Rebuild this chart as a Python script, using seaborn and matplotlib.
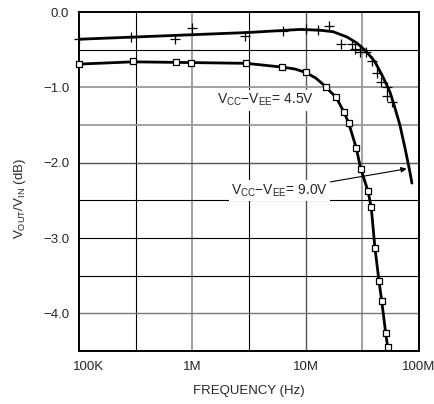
import matplotlib
matplotlib.use("Agg")
import matplotlib.pyplot as plt
import matplotlib.transforms as mtransforms
import seaborn as sns
import pandas as pd

# --- data ---
# upper curve, fitted line
fit_hi_f = [1.0e5, 3.16e5, 1.0e6, 3.16e6, 8.9e6, 1.34e7, 1.75e7, 2.32e7, 2.84e7,
            3.48e7, 4.1e7, 4.82e7, 5.56e7, 6.15e7, 6.81e7, 7.54e7, 8.34e7, 8.69e7]
fit_hi_db = [-0.36, -0.33, -0.30, -0.27, -0.23, -0.24, -0.26, -0.33, -0.41,
             -0.53, -0.66, -0.86, -1.06, -1.27, -1.50, -1.80, -2.12, -2.27]
# upper curve, measured points (+)
meas_hi_f = [1.0e5, 2.9e5, 7.1e5, 1.0e6, 2.95e6, 6.3e6, 1.0e7, 1.29e7, 1.62e7,
             2.04e7, 2.57e7, 2.75e7, 3.02e7, 3.39e7, 3.89e7, 4.27e7, 4.68e7,
             5.25e7, 5.25e7, 5.75e7]
meas_hi_db = [-0.36, -0.33, -0.36, -0.21, -0.32, -0.25, -0.23, -0.24, -0.19,
              -0.42, -0.42, -0.49, -0.53, -0.53, -0.65, -0.81, -0.93,
              -0.99, -1.11, -1.19]
# lower curve, fitted line
fit_lo_f = [1.0e5, 3.0e5, 1.0e6, 3.0e6, 6.2e6, 8.05e6, 1.0e7, 1.23e7, 1.51e7,
            1.64e7, 1.86e7, 2.19e7, 2.4e7, 2.8e7, 3.07e7, 3.55e7, 3.8e7,
            4.1e7, 4.45e7, 4.7e7, 5.1e7, 5.3e7]
fit_lo_db = [-0.69, -0.66, -0.67, -0.68, -0.73, -0.755, -0.80, -0.875, -0.99,
             -1.05, -1.13, -1.33, -1.47, -1.80, -2.08, -2.37, -2.59,
             -3.13, -3.57, -3.83, -4.26, -4.44]
# lower curve, measured points (squares)
meas_lo_f = [1.0e5, 3.0e5, 7.2e5, 9.8e5, 3.0e6, 6.2e6, 1.0e7, 1.51e7, 1.86e7,
             2.19e7, 2.4e7, 2.8e7, 3.07e7, 3.55e7, 3.8e7, 4.1e7, 4.45e7,
             4.7e7, 5.1e7, 5.3e7]
meas_lo_db = [-0.69, -0.65, -0.66, -0.67, -0.68, -0.73, -0.80, -0.99, -1.13,
              -1.33, -1.47, -1.80, -2.08, -2.37, -2.59, -3.13, -3.57,
              -3.83, -4.26, -4.44]

x_ticks = [1e5, 1e6, 1e7, 1e8]
x_labels = ['100K', '1M', '10M', '100M']
y_ticks = [0.0, -1.0, -2.0, -3.0, -4.0]
y_labels = ['0.0', '\u22121.0', '\u22122.0', '\u22123.0', '\u22124.0']

hi = pd.DataFrame({'f': fit_hi_f, 'db': fit_hi_db})
lo = pd.DataFrame({'f': fit_lo_f, 'db': fit_lo_db})
hi_pts = pd.DataFrame({'f': meas_hi_f, 'db': meas_hi_db})
lo_pts = pd.DataFrame({'f': meas_lo_f, 'db': meas_lo_db})

# --- style ---
sns.set_style("white")
plt.rcParams['font.family'] = ['Liberation Sans', 'DejaVu Sans']
plt.rcParams['mathtext.fontset'] = 'custom'
plt.rcParams['mathtext.rm'] = 'Liberation Sans'
plt.rcParams['mathtext.it'] = 'Liberation Sans'
plt.rcParams['lines.solid_joinstyle'] = 'round'
plt.rcParams['lines.solid_capstyle'] = 'round'

fig = plt.figure(figsize=(4.34, 4.04), dpi=100)
ax = fig.add_axes([0.182, 0.131, 0.783, 0.839])
ax.set_xscale('log')
ax.set_xlim(1e5, 1e8)
ax.set_ylim(-4.5, 0.0)

# grid: half decades / 0.5 dB, a mix of black and grey like the scan
vgrid = [(3.16e5, 'black', 0.8), (1e6, '#9a9a9a', 1.3), (3.16e6, 'black', 0.8),
         (1e7, '#555555', 1.0), (3.16e7, '#9a9a9a', 1.3)]
hgrid = [(-0.5, 'black', 0.8), (-1.0, '#9a9a9a', 1.3), (-1.5, '#9a9a9a', 1.3),
         (-2.0, '#555555', 1.0), (-2.5, 'black', 0.8), (-3.0, 'black', 0.8),
         (-3.5, 'black', 0.8), (-4.0, '#777777', 1.0)]
for xv, c, lw in vgrid:
    ax.axvline(xv, color=c, lw=lw, zorder=0)
for yv, c, lw in hgrid:
    ax.axhline(yv, color=c, lw=lw, zorder=0)

sns.lineplot(data=hi, x='f', y='db', ax=ax, color='black', lw=2.0, sort=False, zorder=3)
sns.lineplot(data=lo, x='f', y='db', ax=ax, color='black', lw=2.0, sort=False, zorder=3)
sns.scatterplot(data=hi_pts, x='f', y='db', ax=ax, marker='+', s=55, color='black',
                linewidth=0.9, zorder=4, clip_on=False)
sns.scatterplot(data=lo_pts, x='f', y='db', ax=ax, marker='s', s=20, facecolor='white',
                edgecolor='black', linewidth=0.9, zorder=5, clip_on=False)

# labels on the curves
box = dict(facecolor='white', edgecolor='none', pad=1.5)
ax.text(4.4e6, -1.17, r'V$_{\mathrm{CC}}$' + '\u2212' + r'V$_{\mathrm{EE}}$= 4.5V',
        ha='center', va='center', fontsize=10, bbox=box, zorder=6)
ax.annotate(r'V$_{\mathrm{CC}}$' + '\u2212' + r'V$_{\mathrm{EE}}$= 9.0V',
            xy=(7.8e7, -2.08), xytext=(5.9e6, -2.37),
            ha='center', va='center', fontsize=10, bbox=box, zorder=6,
            arrowprops=dict(arrowstyle='-|>', color='black', lw=0.8,
                            mutation_scale=8, shrinkA=0, shrinkB=0))

ax.set_xticks(x_ticks)
ax.set_xticklabels(x_labels)
ax.minorticks_off()
ax.set_yticks(y_ticks)
ax.set_yticklabels(y_labels)
ax.tick_params(axis='both', length=0, labelsize=9.5, pad=7)
shift = mtransforms.ScaledTranslation(10 / 100, 0, fig.dpi_scale_trans)
first = ax.get_xticklabels()[0]
first.set_transform(first.get_transform() + shift)

ax.set_xlabel('FREQUENCY (Hz)', fontsize=9.5, labelpad=9)
ax.set_ylabel(r'V$_{\mathrm{OUT}}$/V$_{\mathrm{IN}}$ (dB)', fontsize=9.5)
ax.yaxis.set_label_coords(-0.15, 0.45)

for sp in ax.spines.values():
    sp.set_color('black')
    sp.set_linewidth(1.4)
    sp.set_visible(True)

fig.savefig('out.png', dpi=100)
